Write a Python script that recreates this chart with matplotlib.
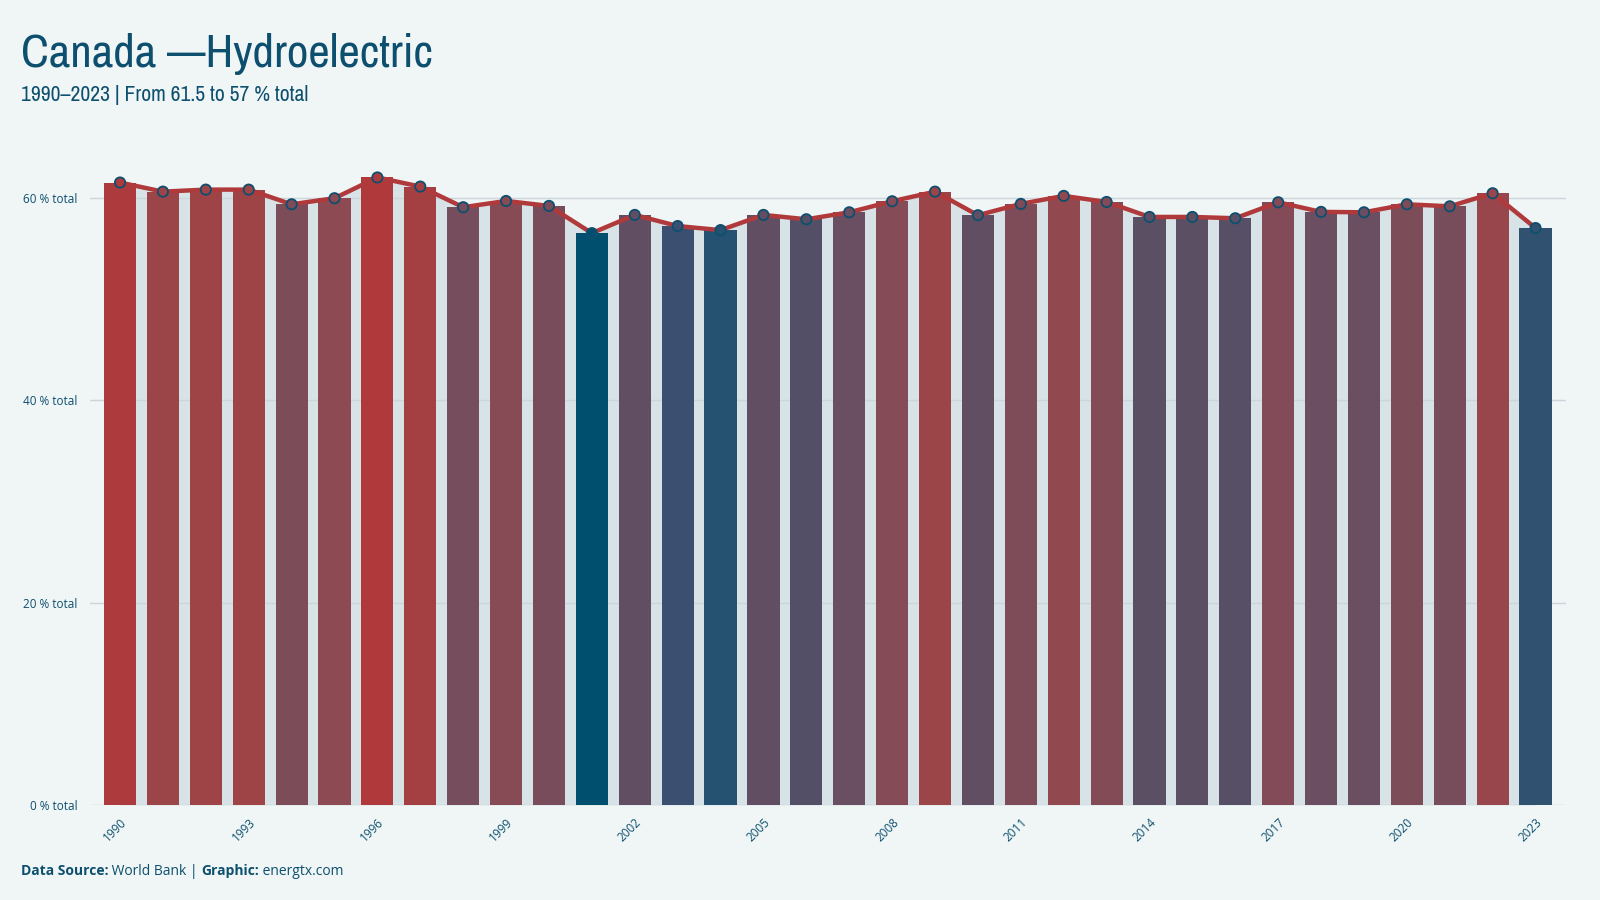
import matplotlib as mpl
import matplotlib.pyplot as plt
import matplotlib.font_manager as fm
import numpy as np
from matplotlib.colors import LinearSegmentedColormap, Normalize

# data
years = list(range(1990, 2024))
hydro_share = [61.5, 60.6, 60.8, 60.8, 59.35, 59.95, 62.0, 61.1, 59.06, 59.68,
               59.19, 56.5, 58.3, 57.2, 56.8, 58.3, 57.87, 58.56, 59.65, 60.6,
               58.27, 59.39, 60.18, 59.58, 58.1, 58.1, 57.97, 59.55, 58.6, 58.56,
               59.35, 59.15, 60.44, 57.0]
y_ticks = [0, 20, 40, 60]
label_years = years[::3]

title = "Canada \u2014Hydroelectric"
subtitle = "1990\u20132023 | From 61.5 to 57 % total"

bg = '#f0f5f5'
ink = '#0d4f6e'
line_red = '#b03a3b'
under_fill = '#d8e3e8'

# blue -> red palette, by value
cmap = LinearSegmentedColormap.from_list('hydro', [
    (0.0, '#004f6f'), (0.055, '#275270'), (0.127, '#3b5070'),
    (0.25, '#544f66'), (0.375, '#6a4e61'), (0.52, '#7d4c59'),
    (0.627, '#8d4a52'), (0.78, '#9f4446'), (0.909, '#ad3b3e'),
    (1.0, '#b0393b')])
norm = Normalize(vmin=min(hydro_share), vmax=max(hydro_share))
bar_colors = [cmap(norm(v)) for v in hydro_share]

# look for a narrow face for the headings (named condensed first)
def pick_narrow():
    plain = [f for f in fm.fontManager.ttflist
             if f.style == 'normal' and f.weight in (400, 'normal', 'regular')]
    for f in plain:
        if 'Condensed' in f.name or 'Narrow' in f.name:
            return fm.FontProperties(fname=f.fname)
    for f in plain:
        if str(f.stretch) in ('condensed', 'extra-condensed', '75', '62'):
            return fm.FontProperties(fname=f.fname)
    return fm.FontProperties(family='Open Sans')

head_prop = pick_narrow()
plt.rcParams['font.family'] = ['Open Sans', 'DejaVu Sans']

fig = plt.figure(figsize=(16, 9), dpi=100, facecolor=bg)
ax = fig.add_axes([0.05625, 0.1056, 0.9225, 0.7197])
ax.set_facecolor(bg)

ax.fill_between(years, hydro_share, 0, color=under_fill, lw=0, zorder=0.5)
for t in y_ticks:
    ax.axhline(t, color='#cbd6db', lw=1.0, zorder=1)
ax.bar(years, hydro_share, width=0.75, color=bar_colors, zorder=2)
ax.plot(years, hydro_share, color=line_red, lw=3.2, zorder=3, solid_joinstyle='round')
ax.scatter(years, hydro_share, s=55, c=bar_colors, edgecolors=ink, linewidths=1.3, zorder=4)

ax.set_xlim(1989.3, 2023.71)
ax.set_ylim(0, 64)
ax.set_yticks(y_ticks)
ax.set_yticklabels([f'{t} % total' for t in y_ticks])
ax.set_xticks(label_years)
ax.set_xticklabels([str(y) for y in label_years], rotation=45, ha='right',
                   rotation_mode='anchor')
ax.tick_params(axis='both', length=0, colors=ink, labelsize=8.5)
ax.tick_params(axis='y', pad=9)
ax.tick_params(axis='x', pad=8)
for s in ax.spines.values():
    s.set_visible(False)

t1 = fig.text(0.013, 0.926, title, color=ink, fontproperties=head_prop, va='baseline')
t1.set_fontsize(34)
t2 = fig.text(0.013, 0.888, subtitle, color=ink, fontproperties=head_prop, va='baseline')
t2.set_fontsize(14.5)

fig.canvas.draw()
r = fig.canvas.get_renderer()
# size the headings to the width they take in the chart
for tt, size, target_px in [(t1, 34, 411), (t2, 14.5, 287)]:
    w = tt.get_window_extent(r).width
    fit = size * target_px / w
    tt.set_fontsize(max(fit, size * 0.85))

# footer, bold / regular runs placed one after another
parts = [("Data Source:", 'bold'), (" World Bank | ", 'normal'),
         ("Graphic:", 'bold'), (" energtx.com", 'normal')]
x = 0.013
for txt, w in parts:
    tt = fig.text(x, 0.028, txt, fontsize=10, color=ink, fontweight=w, va='baseline')
    bb = tt.get_window_extent(r)
    x = bb.x1 / fig.bbox.width

fig.savefig('out.png', dpi=100, facecolor=bg)
